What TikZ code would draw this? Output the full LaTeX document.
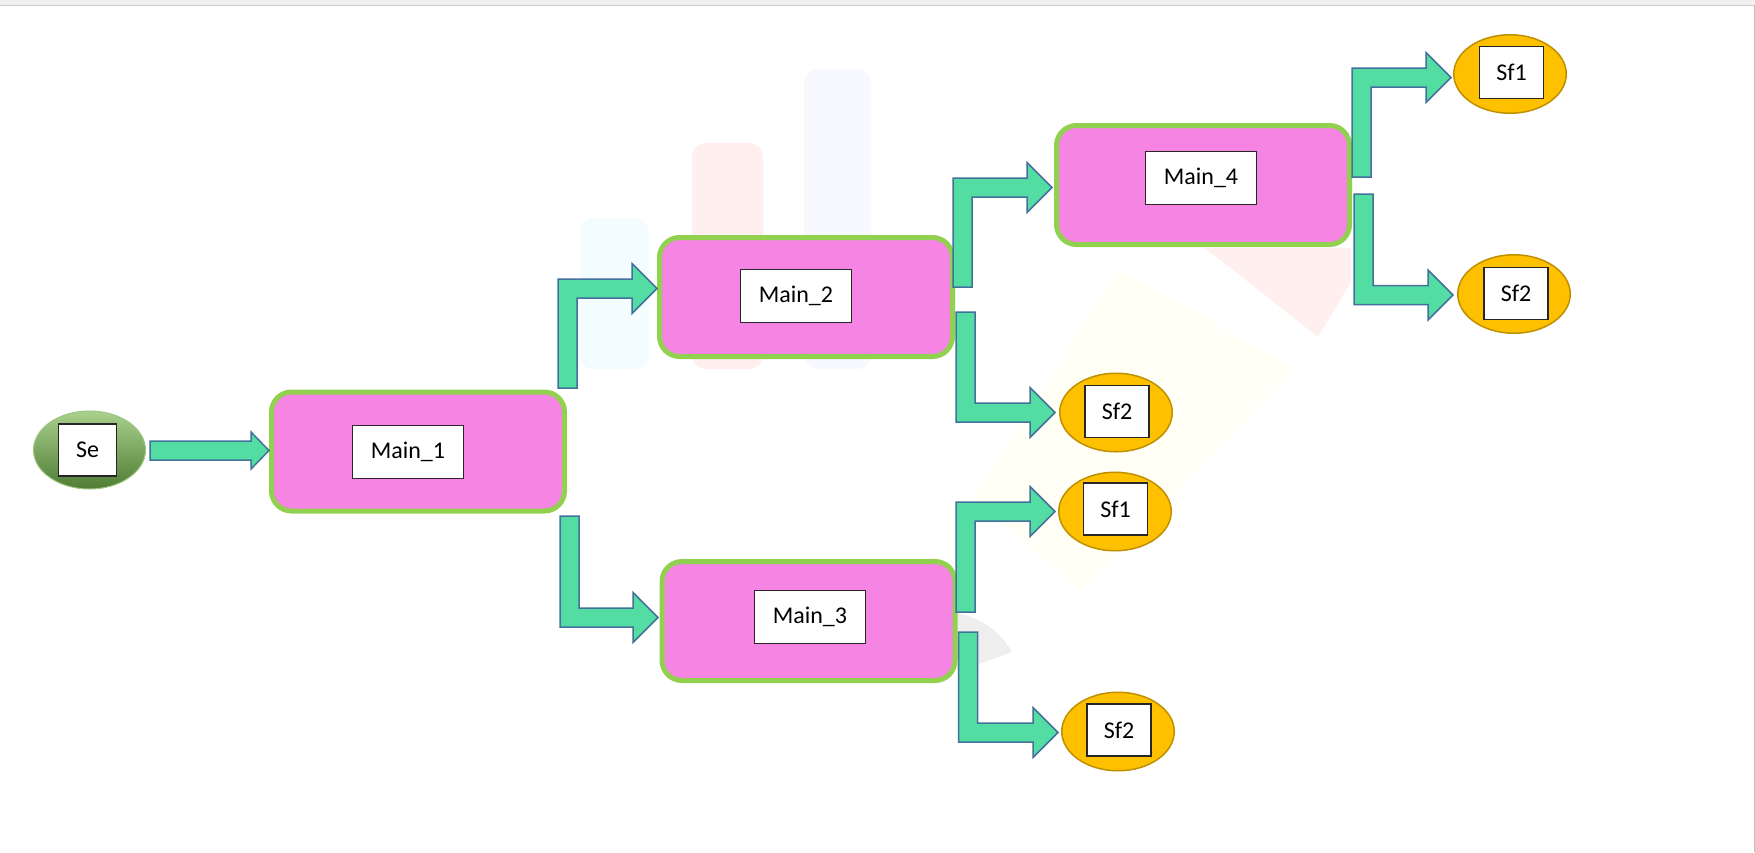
\documentclass[tikz,border=0pt]{standalone}
\usepackage{fontspec}
\setmainfont{Carlito}
\usetikzlibrary{calc,shapes.geometric}
\definecolor{pinkfill}{HTML}{F584E3}
\definecolor{greenline}{HTML}{92D050}
\definecolor{mint}{HTML}{54DDA2}
\definecolor{arrowline}{HTML}{41719C}
\definecolor{gold}{HTML}{FFC000}
\definecolor{goldline}{HTML}{BF9000}
\definecolor{seTop}{HTML}{A9D18E}
\definecolor{seMid}{HTML}{70AD47}
\definecolor{seBot}{HTML}{507C34}
\definecolor{wmcyan}{HTML}{F3FCFF}
\definecolor{wmred}{HTML}{FFEFEF}
\definecolor{wmblue}{HTML}{F8F8FF}
\definecolor{wmyellow}{HTML}{FFFFF5}
\definecolor{wmgrey}{HTML}{EEEEEE}
\tikzset{
  mainbox/.style={draw=greenline, line width=5pt, fill=pinkfill, rounded corners=20pt,
    minimum width=293pt, minimum height=119pt, inner sep=0pt},
  labelbox/.style={draw=black!85, line width=1.4pt, fill=white, minimum width=110.5pt,
    minimum height=52.5pt, inner sep=0pt, font=\fontsize{24}{28}\selectfont},
  smalllabel/.style={labelbox, minimum width=64pt, minimum height=52pt},
  sfell/.style={ellipse, draw=goldline, line width=1.5pt, fill=gold,
    minimum width=112.5pt, minimum height=78.5pt, inner sep=0pt},
  seell/.style={ellipse, draw=seMid!70!white, line width=1pt, top color=seTop, middle color=seMid,
    bottom color=seBot, minimum width=112pt, minimum height=78pt, inner sep=0pt},
  blockarrow/.style={draw=arrowline, line width=1.5pt, fill=mint, line join=miter},
  wmbar/.style={rounded corners=14pt}
}
% bent arrow going up then right: #1 = bottom of vertical shaft, #2 = tip
\newcommand\bentUpArrow[2]{%
  \draw[blockarrow] let \p1=(#1), \p2=(#2) in
    (\x1-9.5pt,\y1) -- (\x1-9.5pt,\y2+9.5pt) -- (\x2-25pt,\y2+9.5pt) -- (\x2-25pt,\y2+25pt)
    -- (\p2) -- (\x2-25pt,\y2-25pt) -- (\x2-25pt,\y2-9.5pt) -- (\x1+9.5pt,\y2-9.5pt)
    -- (\x1+9.5pt,\y1) -- cycle;}
% bent arrow going down then right: #1 = top of vertical shaft, #2 = tip
\newcommand\bentDownArrow[2]{%
  \draw[blockarrow] let \p1=(#1), \p2=(#2) in
    (\x1-9.5pt,\y1) -- (\x1+9.5pt,\y1) -- (\x1+9.5pt,\y2+9.5pt) -- (\x2-25pt,\y2+9.5pt)
    -- (\x2-25pt,\y2+25pt) -- (\p2) -- (\x2-25pt,\y2-25pt) -- (\x2-25pt,\y2-9.5pt)
    -- (\x1-9.5pt,\y2-9.5pt) -- cycle;}
\begin{document}
\begin{tikzpicture}[x=1pt,y=-1pt]
\useasboundingbox (0,0) rectangle (1755,852);
\fill[white] (0,0) rectangle (1755,852);
% window strip at the top
\fill[black!6] (0,0) rectangle (1755,5);
\draw[black!20, line width=0.8pt] (0,5) -- (1755,5);
\draw[black!25, line width=0.8pt] (1754,5) -- (1754,852);
% faint watermark
\fill[wmyellow] (1119,269) -- (1296,369) -- (1080,591) -- (974,498) -- cycle;
\fill[wmred] (1205,248) -- (1351,248) -- (1351,282) -- (1318,337) -- cycle;
\fill[wmgrey] (957,613) .. controls (990,620) and (1005,640) .. (1012,652) -- (957,672) -- cycle;
\fill[wmcyan, wmbar] (580,218) rectangle (649,369);
\fill[wmred, wmbar] (692,143) rectangle (763,369);
\fill[wmblue, wmbar] (804,69) rectangle (871,369);

% source
\node[seell] (se) at (89.5,450) {};
\node[smalllabel, minimum width=57.5pt] (seL) at (87.5,450) {Se};

% main boxes
\node[mainbox] (m1) at (418,451.5) {};
\node[mainbox] (m2) at (806,297) {};
\node[mainbox] (m3) at (808.5,621) {};
\node[mainbox] (m4) at (1203,185) {};
\node[labelbox] (m1L) at (408,452) {Main\_1};
\node[labelbox] (m2L) at (796,296) {Main\_2};
\node[labelbox] (m3L) at (810,617) {Main\_3};
\node[labelbox] (m4L) at (1201,178) {Main\_4};

% sinks
\node[sfell] (sfA) at (1510,74) {};
\node[sfell] (sfB) at (1514,294) {};
\node[sfell] (sfC) at (1116,412.5) {};
\node[sfell] (sfD) at (1115,511.5) {};
\node[sfell] (sfE) at (1118,731.5) {};
\node[smalllabel] (sfAL) at (1511.5,72.5) {Sf1};
\node[smalllabel] (sfBL) at (1516,293.5) {Sf2};
\node[smalllabel] (sfCL) at (1117,411.5) {Sf2};
\node[smalllabel] (sfDL) at (1115.5,509) {Sf1};
\node[smalllabel] (sfEL) at (1119,730) {Sf2};

% arrow end points
\coordinate (a01s) at (150,450.5);
\coordinate (a01t) at (269,450.5);
\coordinate (a12s) at (567.5,388);  \coordinate (a12t) at (657,288.5);
\coordinate (a13s) at (569.5,516);  \coordinate (a13t) at (658,617.5);
\coordinate (a24s) at (962.5,287);  \coordinate (a24t) at (1052,187.5);
\coordinate (a2Cs) at (965.5,312);  \coordinate (a2Ct) at (1055,412.5);
\coordinate (a3Ds) at (965.5,612);  \coordinate (a3Dt) at (1055,511.5);
\coordinate (a3Es) at (968,632);    \coordinate (a3Et) at (1058,732.5);
\coordinate (a4As) at (1361.5,177); \coordinate (a4At) at (1451,77.5);
\coordinate (a4Bs) at (1363.5,194); \coordinate (a4Bt) at (1453,295);

% straight arrow Se -> Main_1
\draw[blockarrow] let \p1=(a01s), \p2=(a01t) in
  (\x1,\y1+9.5pt) -- (\x2-18pt,\y1+9.5pt) -- (\x2-18pt,\y2+18.5pt) -- (\p2)
  -- (\x2-18pt,\y2-18.5pt) -- (\x2-18pt,\y1-9.5pt) -- (\x1,\y1-9.5pt) -- cycle;

\bentUpArrow{a12s}{a12t}
\bentDownArrow{a13s}{a13t}
\bentUpArrow{a24s}{a24t}
\bentDownArrow{a2Cs}{a2Ct}
\bentUpArrow{a3Ds}{a3Dt}
\bentDownArrow{a3Es}{a3Et}
\bentUpArrow{a4As}{a4At}
\bentDownArrow{a4Bs}{a4Bt}
\end{tikzpicture}
\end{document}
